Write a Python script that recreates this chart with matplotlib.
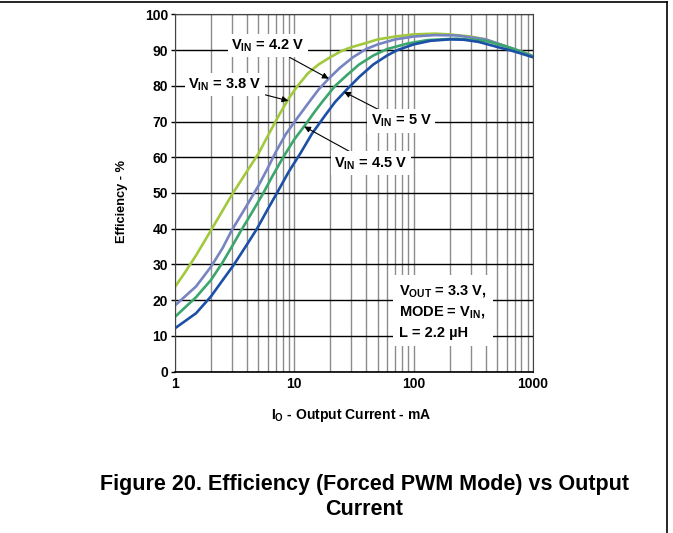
import numpy as np
import matplotlib
matplotlib.use("Agg")
import matplotlib.pyplot as plt
from matplotlib.lines import Line2D

plt.rcParams["font.family"] = ["Liberation Sans", "DejaVu Sans"]
plt.rcParams["font.weight"] = "bold"
plt.rcParams["mathtext.fontset"] = "custom"
plt.rcParams["mathtext.rm"] = "Liberation Sans:bold"
plt.rcParams["mathtext.it"] = "Liberation Sans:bold"
plt.rcParams["mathtext.bf"] = "Liberation Sans:bold"

# efficiency curves (I in mA, efficiency in %)
i_38 = [1, 1.2, 1.5, 2, 2.5, 3, 4, 5, 6, 7.5, 9, 10.5, 13, 16, 20, 25, 30, 40, 50, 70,
        100, 150, 200, 300, 400, 600, 800, 1000]
eff_38 = [23.7, 27.5, 32.5, 39.5, 45, 49.5, 56, 61, 66, 72, 76.5, 79.7, 83.5, 86, 88, 89.8,
          90.8, 92, 93, 93.8, 94.4, 94.6, 94.4, 93.8, 93, 91, 89.6, 88.3]

i_42 = [1, 1.5, 2, 2.5, 3, 4, 5, 6, 7, 8.5, 10.5, 13, 16, 19.4, 24, 31, 40, 50, 70, 100,
        150, 230, 400, 600, 800, 1000]
eff_42 = [18.5, 23.8, 29.3, 34.5, 39.6, 46.5, 52, 57, 61.5, 66.5, 70.8, 75, 79, 82, 85, 88,
          90.3, 91.6, 93, 93.8, 94.2, 94.1, 93, 91, 89.6, 88.3]

i_45 = [1, 1.5, 2, 2.5, 3, 3.6, 4.5, 5.4, 6.5, 8.1, 10, 12.3, 15, 17.5, 22, 27.6, 35, 46,
        60, 88, 130, 230, 400, 600, 800, 1000]
eff_45 = [15.3, 20.8, 25.6, 30.5, 35, 39.6, 45, 49.5, 54.5, 60.1, 65, 69, 73, 75.9, 80, 83,
          86, 88.5, 90.3, 91.8, 92.8, 93.2, 92.6, 91, 89.5, 88.2]

i_50 = [1, 1.5, 2, 2.5, 3.1, 4, 4.85, 6, 7.1, 9, 11.2, 14, 18.1, 22, 27.6, 35, 46, 60, 73,
        100, 138, 200, 262, 350, 500, 700, 1000]
eff_50 = [12.1, 16.3, 21, 25.5, 29.8, 35.5, 39.9, 45.5, 49.8, 56, 61, 66.5, 71.7, 75.5, 79,
          82.5, 86, 88.5, 90, 91.6, 92.6, 93, 92.9, 92.3, 90.9, 89.6, 88]

curves = [
    (i_38, eff_38, "#a2c83c"),
    (i_42, eff_42, "#7684c2"),
    (i_45, eff_45, "#3ba66c"),
    (i_50, eff_50, "#1c4fa6"),
]

fig = plt.figure(figsize=(6.73, 5.33), dpi=100)
ax = fig.add_axes([0.260, 0.303, 0.532, 0.670])

for x, y, c in curves:
    ax.plot(x, y, color=c, lw=1.9, solid_joinstyle="round", zorder=2)

ax.set_xscale("log")
ax.set_xlim(1, 1000)
ax.set_ylim(0, 100)
ax.set_yticks(np.arange(0, 101, 10))
ax.set_xticks([1, 10, 100, 1000])
ax.set_xticklabels(["1", "10", "100", "1000"])
ax.set_axisbelow(True)
ax.grid(True, which="major", axis="y", color="black", lw=1.0)
ax.grid(True, which="both", axis="x", color="#8c8c8c", lw=1.0)
ax.tick_params(axis="y", length=3, width=1, labelsize=10, pad=2)
ax.tick_params(axis="x", which="both", length=0, labelsize=10, pad=4)
for s in ax.spines.values():
    s.set_color("#444444")
ax.spines["bottom"].set_color("black")
ax.spines["bottom"].set_linewidth(1.2)

ax.set_xlabel(r"I$_{\rm O}$ - Output Current - mA", fontsize=10, fontweight="bold")
ax.xaxis.set_label_coords(0.493, -0.10)
ax.set_ylabel("Efficiency - %", fontsize=9.2, fontweight="bold")
ax.yaxis.set_label_coords(-0.131, 0.476)

arrow = dict(arrowstyle="-|>", color="black", lw=0.8, mutation_scale=9,
             shrinkA=0, shrinkB=0)
box = dict(boxstyle="square,pad=0.25", fc="white", ec="none")

ax.annotate(r"V$_{\rm IN}$ = 4.2 V", xy=(19.4, 82), xytext=(6.0, 91.3),
            ha="center", va="center", fontsize=10.5, bbox=box, arrowprops=arrow, zorder=3)
ax.annotate(r"V$_{\rm IN}$ = 3.8 V", xy=(8.9, 75.8), xytext=(2.63, 80.4),
            ha="center", va="center", fontsize=10.5, bbox=box, arrowprops=arrow, zorder=3)
ax.annotate(r"V$_{\rm IN}$ = 5 V", xy=(26.1, 78.3), xytext=(78.5, 70.1),
            ha="center", va="center", fontsize=10.5, bbox=box, arrowprops=arrow, zorder=3)
ax.annotate(r"V$_{\rm IN}$ = 4.5 V", xy=(12.1, 68.6), xytext=(44, 58.3),
            ha="center", va="center", fontsize=10.5, bbox=box, arrowprops=arrow, zorder=3)

ax.text(75.6, 16.9, "V$_{\\rm OUT}$ = 3.3 V,\nMODE = V$_{\\rm IN}$,\nL = 2.2 \u00b5H",
        ha="left", va="center", fontsize=10.5, linespacing=1.5, zorder=3,
        bbox=dict(boxstyle="square,pad=0.4", fc="white", ec="none"))

fig.text(0.541, 0.0675, "Figure 20. Efficiency (Forced PWM Mode) vs Output\nCurrent",
         ha="center", va="center", fontsize=15.5, linespacing=1.2)

# page frame lines
fig.add_artist(Line2D([0, 0.991], [0.996, 0.996], color="black", lw=1.2,
                      transform=fig.transFigure))
fig.add_artist(Line2D([0.991, 0.991], [0, 0.996], color="black", lw=1.2,
                      transform=fig.transFigure))

fig.savefig("out.png", dpi=100)
